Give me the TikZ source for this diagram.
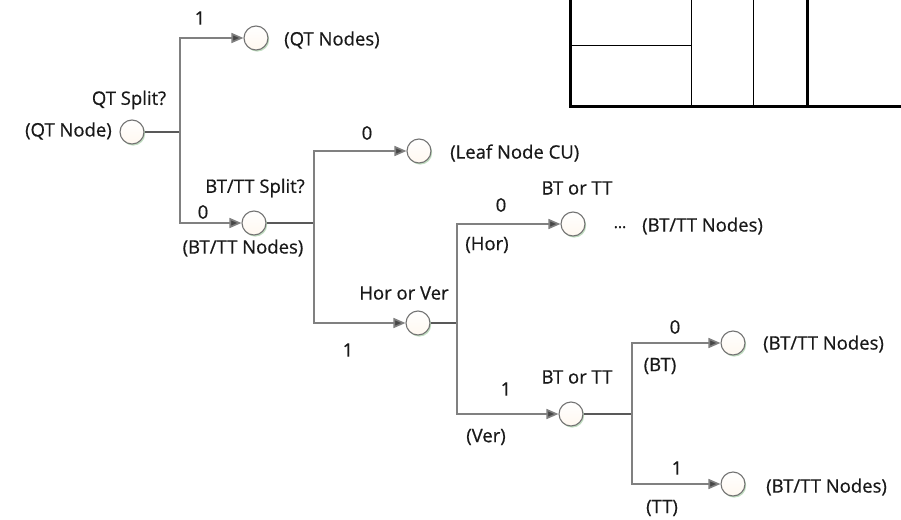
\documentclass[tikz,border=0pt]{standalone}
\usepackage{fontspec}
\setmainfont{Open Sans}
\newfontfamily\lblfont{Open Sans}[FakeBold=0.6]
\usepackage{xcolor}
\usetikzlibrary{arrows.meta,shadows}

\begin{document}
\begin{tikzpicture}[x=1pt,y=-1pt,
  dec/.style={circle,draw=black!55,line width=1.1pt,top color=white,bottom color=yellow!8!orange!6,
    minimum size=24pt,inner sep=0pt,
    drop shadow={shadow xshift=1.2pt,shadow yshift=-1.6pt,fill=green!45!black!35,opacity=0.7}},
  lbl/.style={font=\lblfont\fontsize{18.5}{21}\selectfont,text=black!90,inner sep=0pt},
  stub/.style={draw=black!65,line width=2.6pt},
  branch/.style={draw=black!50,line width=1.6pt,-{Triangle[length=12pt,width=10pt,fill=black!72]}}]
\useasboundingbox (0,0) rectangle (901,519);
% partition sketch
\draw[line width=3pt] (570,0) -- (570,106) -- (901,106);
\draw[line width=3pt] (807,0) -- (807,106);
\draw[line width=1pt] (570,46) -- (691,46) (691,0) -- (691,106) (753,0) -- (753,106);
% decision nodes
\node[dec] (qt) at (132,132) {};
\node[dec] (qtn) at (256,38) {};
\node[dec] (bt) at (254,223) {};
\node[dec] (leaf) at (419,151) {};
\node[dec] (hv) at (418,323) {};
\node[dec] (hor) at (573,224) {};
\node[dec] (ver) at (571,414) {};
\node[dec] (bto) at (733,343) {};
\node[dec] (tto) at (733,484) {};
\coordinate (s1) at (180,132);
\coordinate (s2) at (314,223);
\coordinate (s3) at (457,323);
\coordinate (s4) at (632,414);
% connectors
\draw[stub] (qt) -- (s1);
\draw[branch] (s1) |- (qtn);
\draw[branch] (s1) |- (bt);
\draw[stub] (bt) -- (s2);
\draw[branch] (s2) |- (leaf);
\draw[branch] (s2) |- (hv);
\draw[stub] (hv) -- (s3);
\draw[branch] (s3) |- (hor);
\draw[branch] (s3) |- (ver);
\draw[stub] (ver) -- (s4);
\draw[branch] (s4) |- (bto);
\draw[branch] (s4) |- (tto);
% labels
\node[lbl,anchor=east] (tqt) at (112,131) {(QT Node)};
\node[lbl] (tqs) at (129,100) {QT Split?};
\node[lbl] (t1a) at (200,18) {1};
\node[lbl,anchor=west] (tqn) at (284,40) {(QT Nodes)};
\node[lbl] (t0a) at (203,212) {0};
\node[lbl] (tbs) at (255,188) {BT/TT Split?};
\node[lbl] (tbn) at (243,248) {(BT/TT Nodes)};
\node[lbl] (t0b) at (367,133) {0};
\node[lbl,anchor=west] (tlf) at (450,153) {(Leaf Node CU)};
\node[lbl] (thv) at (404,293) {Hor or Ver};
\node[lbl] (t1b) at (348,350) {1};
\node[lbl] (t0c) at (501,205) {0};
\node[lbl] (tbo1) at (577,188) {BT or TT};
\node[lbl] (thr) at (487,245) {(Hor)};
\node[lbl,anchor=base] (tdot) at (620,228) {\fontsize{16}{18}\selectfont\dots};
\node[lbl,anchor=west] (tn1) at (642,226) {(BT/TT Nodes)};
\node[lbl] (t1c) at (506,389) {1};
\node[lbl] (tbo2) at (577,377) {BT or TT};
\node[lbl] (tvr) at (486,437) {(Ver)};
\node[lbl] (t0d) at (675,327) {0};
\node[lbl] (tbt) at (660,366) {(BT)};
\node[lbl,anchor=west] (tn2) at (763,344) {(BT/TT Nodes)};
\node[lbl] (t1d) at (677,468) {1};
\node[lbl] (ttt) at (662,508) {(TT)};
\node[lbl,anchor=west] (tn3) at (766,487) {(BT/TT Nodes)};
\end{tikzpicture}
\end{document}
